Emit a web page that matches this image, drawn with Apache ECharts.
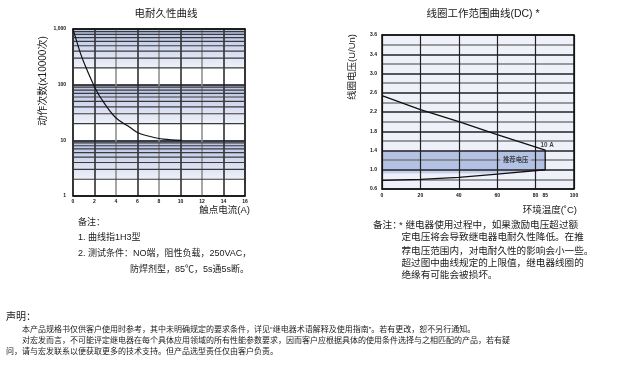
<!DOCTYPE html>
<html><head><meta charset="utf-8">
<style>html,body{margin:0;padding:0;background:#fff}#c{width:617px;height:366px}</style>
<script src="https://cdn.jsdelivr.net/npm/echarts@6/dist/echarts.min.js"></script>
</head><body><div id="c"></div>
<script>
// ---------- Left chart: 电耐久性曲线 ----------
const currentTicks = [0, 2, 4, 6, 8, 10, 12, 14, 16];
const enduranceCurrent = [0, 0.21, 0.68, 1.14, 1.91, 2.6, 3.93, 5.32, 6.09, 7.18, 8.4, 10.1];
const enduranceOps = [1000, 733, 373, 218, 100, 57, 26, 17, 13.5, 11.7, 10.5, 10];
const opsTicks = [1, 10, 100, 1000];
const shadedBands = [[200, 1000], [20, 100], [2, 10]];
const minorOps = [2, 3, 4, 5, 6, 7, 8, 9, 20, 30, 40, 50, 60, 70, 80, 90, 200, 300, 400, 500, 600, 700, 800, 900];

// ---------- Right chart: 线圈工作范围曲线(DC) ----------
const tempTicks = [0, 20, 40, 60, 80, 85, 100];
const voltTickValues = [0.6, 1.0, 1.4, 1.8, 2.2, 2.6, 3.0, 3.4, 3.8];
const voltTickLabels = ['0.6', '1.0', '1.4', '1.8', '2.2', '2.6', '3.0', '3.4', '3.6'];
const upperTemp = [0, 20, 40, 60, 85];
const upperVolt = [2.54, 2.25, 2.0, 1.73, 1.41];
const lowerTemp = [0, 20, 40, 60, 85];
const lowerVolt = [0.78, 0.80, 0.84, 0.91, 1.0];
const recTemp = [0, 85, 85, 60, 0];
const recVolt = [1.4, 1.4, 1.0, 0.92, 0.92];
const labelPoints = [
  { value: [85, 1.41], text: '10 A' },
  { value: [69.6, 1.2], text: '推荐电压' }
];

const FF = '"Liberation Sans","Noto Sans CJK SC",sans-serif';
const INK = '#1a1a1a';

function txt(x, y, s, size, o) {
  o = o || {};
  const al = o.align || 'left';
  return { type: 'text', x: x, y: y, rotation: o.rot || 0, z: 10,
    style: { text: s, fill: o.color || INK, fontSize: size, fontFamily: FF, fontWeight: o.weight || 'normal',
      textAlign: al, textVerticalAlign: 'middle', align: al, verticalAlign: 'middle' } };
}

const tickLabel = { fontSize: 5, fontWeight: 'bold', color: '#111', fontFamily: FF };
const borderAxis = (grid, pos, type, min, max) => ({
  gridIndex: grid, type: type, position: pos, min: min, max: max, z: 1.5,
  axisLine: { show: true, onZero: false, lineStyle: { color: '#111', width: 1.5 } },
  axisTick: { show: false }, axisLabel: { show: false }, splitLine: { show: false }
});

const upperPath = upperTemp.map((t, i) => [t, upperVolt[i]]);
const lowerPath = lowerTemp.map((t, i) => [t, lowerVolt[i]]).reverse();
const boundary = upperPath.concat(lowerPath);
const recPts = recTemp.map((t, i) => [t, recVolt[i]]);

const option = {
  animation: false,
  backgroundColor: '#fff',
  grid: [
    { left: 73, top: 29, width: 172, height: 167 },
    { left: 382, top: 35, width: 192, height: 154, show: true, backgroundColor: '#eef1fa', borderWidth: 0 }
  ],
  xAxis: [
    { gridIndex: 0, type: 'value', min: currentTicks[0], max: currentTicks[currentTicks.length - 1], interval: 2, z: 1.5,
      axisLine: { show: true, onZero: false, lineStyle: { color: '#111', width: 1.5 } },
      axisTick: { show: false }, axisLabel: Object.assign({ margin: 3 }, tickLabel),
      splitLine: { show: true, lineStyle: { color: ['#888', '#222'], width: 1.5 } } },
    borderAxis(0, 'top', 'value', 0, 16),
    { gridIndex: 1, type: 'value', min: 0, max: 100, interval: 20, z: 1.5,
      axisLine: { show: true, onZero: false, lineStyle: { color: '#111', width: 1.5 } },
      axisTick: { show: false }, axisLabel: Object.assign({ margin: 4, customValues: tempTicks }, tickLabel),
      splitLine: { show: true, lineStyle: { color: '#222', width: 1.2 } } },
    borderAxis(1, 'top', 'value', 0, 100)
  ],
  yAxis: [
    { gridIndex: 0, type: 'log', logBase: 10, min: opsTicks[0], max: opsTicks[opsTicks.length - 1], splitNumber: 3, z: 1.5,
      axisLine: { show: true, onZero: false, lineStyle: { color: '#111', width: 1.5 } },
      axisTick: { show: false }, axisLabel: Object.assign({ margin: 7 }, tickLabel),
      splitLine: { show: true, lineStyle: { color: '#111', width: 1.5 } } },
    borderAxis(0, 'right', 'log', 1, 1000),
    { gridIndex: 1, type: 'value', min: 0.6, max: 3.8, interval: 0.2, z: 1.5,
      axisLine: { show: true, onZero: false, lineStyle: { color: '#111', width: 1.5 } },
      axisTick: { show: false },
      axisLabel: Object.assign({ margin: 5, customValues: voltTickValues,
        formatter: function (v) {
          for (let i = 0; i < voltTickValues.length; i++) if (Math.abs(voltTickValues[i] - v) < 1e-6) return voltTickLabels[i];
          return '';
        } }, tickLabel),
      splitLine: { show: true, lineStyle: { color: ['#222', '#7a7a7a'], width: 1.5 } } },
    borderAxis(1, 'right', 'value', 0.6, 3.8)
  ],
  series: [
    { type: 'custom', xAxisIndex: 0, yAxisIndex: 0, z: 1, silent: true,
      data: shadedBands.map(b => [0, 16, b[0], b[1]]),
      encode: { x: [0, 1], y: [2, 3] },
      renderItem: function (params, api) {
        const p1 = api.coord([api.value(0), api.value(3)]);
        const p2 = api.coord([api.value(1), api.value(2)]);
        return { type: 'rect', shape: { x: p1[0], y: p1[1], width: p2[0] - p1[0], height: p2[1] - p1[1] },
          style: { fill: new echarts.graphic.LinearGradient(0, 0, 0, 1, [
            { offset: 0, color: '#b5c1e5' }, { offset: 1, color: '#eef1f9' }]) } };
      } },
    { type: 'custom', xAxisIndex: 0, yAxisIndex: 0, z: 1.6, silent: true,
      data: minorOps.map(v => [0, 16, v]),
      encode: { x: [0, 1], y: 2 },
      renderItem: function (params, api) {
        const a = api.coord([api.value(0), api.value(2)]);
        const b = api.coord([api.value(1), api.value(2)]);
        return { type: 'line', shape: { x1: a[0], y1: a[1], x2: b[0], y2: b[1] },
          style: { stroke: '#3a3a3a', lineWidth: 1.2 } };
      } },
    { type: 'line', xAxisIndex: 0, yAxisIndex: 0, z: 3, smooth: 0.35, symbol: 'none', silent: true,
      data: enduranceCurrent.map((c, i) => [c, enduranceOps[i]]),
      lineStyle: { color: '#111', width: 1.2 } },
    { type: 'custom', xAxisIndex: 2, yAxisIndex: 2, z: 1, silent: true,
      data: recPts, encode: { x: 0, y: 1 },
      renderItem: function (params, api) {
        if (params.dataIndex !== 0) return null;
        const pts = recPts.map(p => api.coord(p));
        return { type: 'polygon', shape: { points: pts },
          style: { fill: new echarts.graphic.LinearGradient(0, 0, 0, 1, [
            { offset: 0, color: '#b3c1e4' }, { offset: 0.78, color: '#b3c1e4' }, { offset: 1, color: '#cbd4ee' }]) } };
      } },
    { type: 'line', xAxisIndex: 2, yAxisIndex: 2, z: 3, symbol: 'none', silent: true,
      data: boundary, lineStyle: { color: '#111', width: 1.3 } },
    { type: 'scatter', xAxisIndex: 2, yAxisIndex: 2, z: 4, symbolSize: 0, silent: true,
      itemStyle: { color: 'rgba(0,0,0,0)' },
      data: labelPoints.map((p, i) => ({ value: p.value,
        label: i === 0
          ? { show: true, formatter: p.text, position: 'top', distance: 2, offset: [2, 0], fontSize: 6.3, fontWeight: 'bold', color: '#111', fontFamily: FF }
          : { show: true, formatter: p.text, position: 'inside', fontSize: 6.3, fontWeight: 'bold', color: '#222', fontFamily: FF,
              backgroundColor: '#b3c1e4', padding: [2, 3] } })) }
  ],
  graphic: [
    txt(166, 14, '电耐久性曲线', 10.5, { align: 'center' }),
    txt(483, 14, '线圈工作范围曲线(DC) *', 10.5, { align: 'center' }),
    txt(43, 81, '动作次数(x10000次)', 10, { align: 'center', rot: Math.PI / 2 }),
    txt(352, 67, '线圈电压(U/Un)', 9.5, { align: 'center', rot: Math.PI / 2 }),
    txt(250, 210, '触点电流(A)', 9.5, { align: 'right' }),
    txt(577, 210, '环境温度(˚C)', 9.5, { align: 'right' }),
    txt(78, 223, '备注：', 9),
    txt(78, 237.5, '1. 曲线指1H3型', 9),
    txt(78, 253.5, '2. 测试条件：NO端，阻性负载，250VAC，', 9),
    txt(130, 270, '防焊剂型，85℃，5s通5s断。', 9),
    txt(373, 225, '备注：', 9.6),
    txt(399, 225, '* 继电器使用过程中，如果激励电压超过额', 9.6),
    txt(401.5, 237.5, '定电压将会导致继电器电耐久性降低。在推', 9.6),
    txt(401.5, 251, '荐电压范围内，对电耐久性的影响会小一些。', 9.6),
    txt(401.5, 263, '超过图中曲线规定的上限值，继电器线圈的', 9.6),
    txt(401.5, 275, '绝缘有可能会被损坏。', 9.6),
    txt(6, 317, '声明：', 10),
    txt(22, 330, '本产品规格书仅供客户使用时参考，其中未明确规定的要求条件，详见“继电器术语解释及使用指南”。若有更改，恕不另行通知。', 8),
    txt(22, 341, '对宏发而言，不可能评定继电器在每个具体应用领域的所有性能参数要求，因而客户应根据具体的使用条件选择与之相匹配的产品，若有疑', 8),
    txt(6, 352, '问，请与宏发联系以便获取更多的技术支持。但产品选型责任仅由客户负责。', 8)
  ]
};

const chart = echarts.init(document.getElementById('c'), null, { renderer: 'canvas' });
chart.setOption(option);
</script>
</body></html>
